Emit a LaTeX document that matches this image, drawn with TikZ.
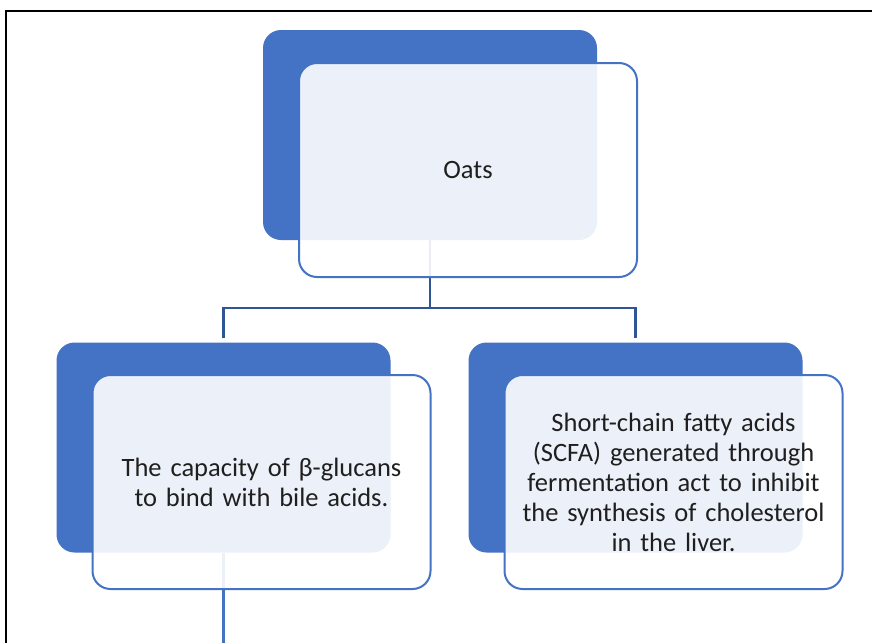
\documentclass[tikz,border=0pt]{standalone}
\usepackage{fontspec}
\setmainfont{Carlito}
\usepackage{xcolor}
\usetikzlibrary{positioning}
\definecolor{boxblue}{HTML}{4472C4}
\definecolor{linkblue}{HTML}{2F5597}
\tikzset{
  backbox/.style={fill=boxblue, rounded corners=18pt, minimum width=334pt, minimum height=210pt, inner sep=0pt},
  frontbox/.style={draw=boxblue, line width=2pt, fill=white, fill opacity=0.9, text opacity=1,
    rounded corners=18pt, minimum width=338pt, minimum height=214pt, inner sep=0pt,
    text width=330pt, align=center, font=\fontsize{26.5}{30}\selectfont, text=black!88},
  link/.style={linkblue, line width=2.8pt},
  leaf/.style={boxblue, line width=2.2pt}
}
\begin{document}
\begin{tikzpicture}[x=1pt,y=-1pt]
\useasboundingbox (0,0) rectangle (872,643);
% page frame
\draw[black, line width=1.2pt] (6,643) -- (6,11) -- (872,11);
% back boxes
\node[backbox] (oatsback) at (430,135) {};
\node[backbox] (glucanback) at (223.5,447.5) {};
\node[backbox] (scfaback) at (635.5,447.5) {};
% connectors
\coordinate (barmid) at (430,308);
\coordinate (glucantop) at ([yshift=4pt]glucanback.north);
\coordinate (scfatop) at ([yshift=4pt]scfaback.north);
\coordinate (glucanend) at (223.5,643);
\draw[link] (oatsback.south) -- (barmid);
\draw[link] (glucantop) |- (barmid) -| (scfatop);
\draw[leaf] (glucanback.south) -- (glucanend);
% front boxes
\node[frontbox] (oats) at (468,170) {Oats};
\node[frontbox] (glucan) at (261.5,482) {The capacity of β-glucans\\to bind with bile acids.};
\node[frontbox] (scfa) at (673.5,482) {Short-chain fatty acids\\(SCFA) generated through\\fermentation act to inhibit\\the synthesis of cholesterol\\in the liver.};
\end{tikzpicture}
\end{document}
